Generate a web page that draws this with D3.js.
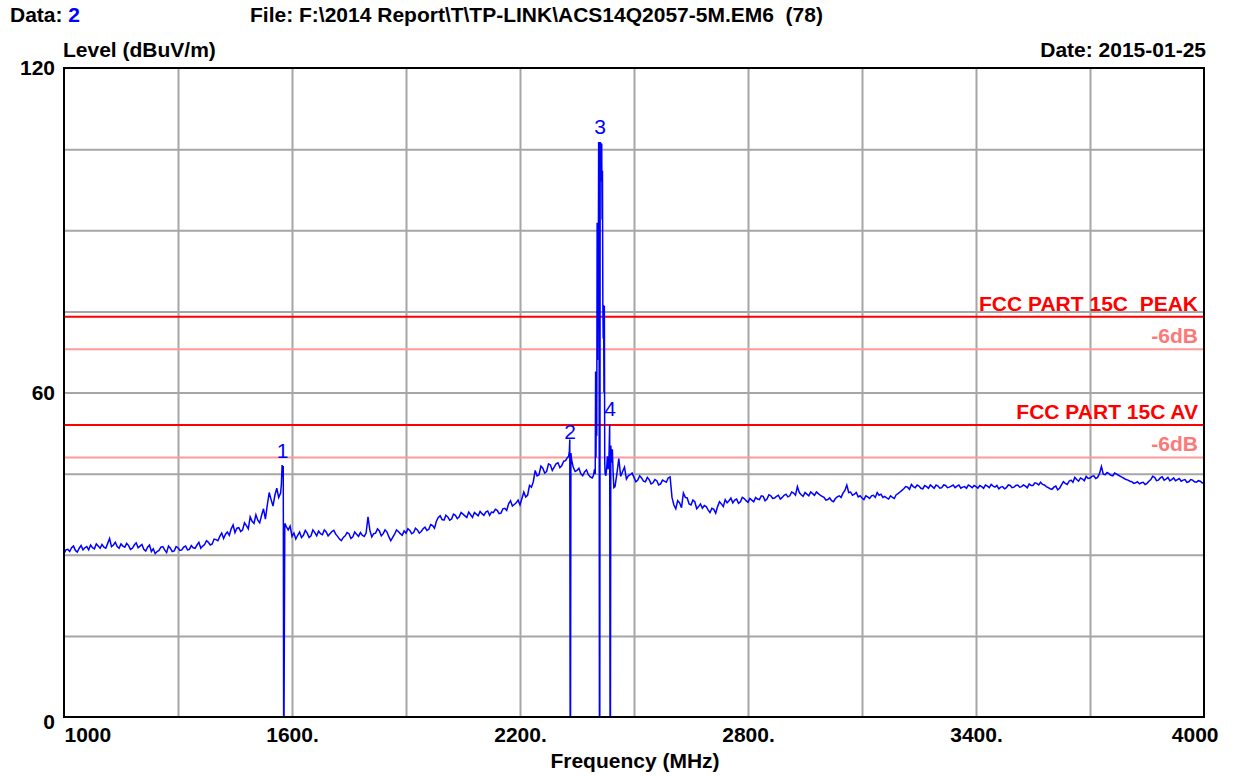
<!DOCTYPE html>
<html>
<head>
<meta charset="utf-8">
<script src="https://cdn.jsdelivr.net/npm/d3@7"></script>
<style>
  html, body { margin: 0; padding: 0; background: #ffffff; }
  svg { display: block; font-family: "Liberation Sans", Arial, sans-serif; }
  text { white-space: pre; }
</style>
</head>
<body>
<svg id="chart" width="1234" height="776"></svg>
<script>
// ---------------- data ----------------
const dataNo = "2";
const fileName = "File: F:\\2014 Report\\T\\TP-LINK\\ACS14Q2057-5M.EM6  (78)";
const dateText = "Date: 2015-01-25";
const yTitle = "Level (dBuV/m)";
const xTitle = "Frequency (MHz)";

const xDomain = [1000, 4000];
const yDomain = [0, 120];
const xGridValues = [1300, 1600, 1900, 2200, 2500, 2800, 3100, 3400, 3700];
const yGridValues = [15, 30, 45, 60, 75, 90, 105];
const xTickValues = [1000, 1600, 2200, 2800, 3400, 4000];
const xTickLabels = ["1000", "1600.", "2200.", "2800.", "3400.", "4000"];
const yTickValues = [0, 60, 120];
const yTickLabels = ["0", "60", "120"];

// limit lines (dBuV/m)
const limitNames = ["FCC PART 15C  PEAK", "-6dB", "FCC PART 15C AV", "-6dB"];
const limitValues = [74, 68, 54, 48];
const limitKinds = ["limit", "margin", "limit", "margin"];

// scan trace: level every 10 MHz from 1000 to 4000 (null = see detail points)
const traceStart = 1000;
const traceStep = 10;
const traceLevels = [
  30.2, 31.0, 31.3, 30.8, 31.2, 30.9, 31.5, 31.8, 31.1, 31.6,   // 1000-1090
  31.9, 31.2, 33.0, 31.8, 31.5, 32.0, 31.4, 31.7, 31.2, 32.2,   // 1100-1190
  31.6, 31.0, 31.4, 30.6, 30.2, 30.8, 31.5, 30.4, 31.2, 30.7,   // 1200-1290
  31.3, 30.9, 31.6, 31.0, 31.3, 31.8, 31.2, 31.9, 32.3, 32.0,   // 1300-1390
  32.8, 33.4, 33.0, 34.2, 34.8, 34.1, 35.0, 34.6, 35.4, 37.0,   // 1400-1490
  35.8, 36.4, 37.3, 36.6, 41.5, 39.0, 42.3, 41.4, null, 34.6,   // 1500-1590
  33.4, 32.9, 34.2, 33.6, 34.0, 33.5, 34.1, 34.4, 33.7, 34.2,   // 1600-1690
  33.9, 34.5, 33.4, 32.6, 33.5, 33.9, 33.3, 33.8, 34.1, 33.4,   // 1700-1790
  37.0, 33.3, 34.0, 34.4, 33.9, 34.2, 32.6, 33.8, 34.3, 33.6,   // 1800-1890
  34.0, 34.5, 34.1, 34.6, 34.3, 35.1, 34.7, 35.4, 36.2, 37.2,   // 1900-1990
  36.4, 37.0, 36.6, 37.3, 37.0, 37.5, 36.9, 37.4, 37.8, 37.2,   // 2000-2090
  37.6, 37.9, 37.3, 37.8, 38.2, 37.7, 38.6, 39.4, 39.0, 39.6,   // 2100-2190
  39.2, 41.6, 41.0, 42.5, 45.6, 44.8, 46.0, 45.4, 46.6, 46.2,   // 2200-2290
  47.0, 46.5, 47.4, null, 46.2, 45.6, 45.0, 45.3, 44.8, 44.2,   // 2300-2390
  null, null, null, null, null, 42.6, 47.8, 45.4, 44.0, 44.8,   // 2400-2490
  44.3, 43.8, 44.2, 43.5, 43.9, 43.3, 43.7, 43.1, 43.6, 44.2,   // 2500-2590
  40.6, 38.5, 39.6, 41.4, 40.5, 39.2, 39.8, 38.9, 38.6, 38.9,   // 2600-2690
  37.8, 38.4, 38.9, 39.4, 40.2, 40.0, 39.6, 40.3, 39.8, 40.4,   // 2700-2790
  39.7, 40.1, 40.6, 40.2, 40.8, 40.3, 40.9, 40.5, 41.0, 40.6,   // 2800-2890
  41.2, 40.9, 41.4, 42.6, 41.1, 41.5, 40.9, 41.3, 41.6, 41.0,   // 2900-2990
  40.6, 40.2, 40.0, 40.4, 40.9, 41.4, 42.9, 41.6, 41.2, 40.7,   // 3000-3090
  40.5, 40.9, 40.4, 41.0, 41.5, 41.2, 40.8, 40.3, 40.6, 41.1,   // 3100-3190
  41.6, 42.2, 42.5, 43.0, 42.4, 42.7, 42.2, 42.6, 42.9, 42.3,   // 3200-3290
  42.7, 42.4, 42.8, 42.5, 42.9, 42.7, 42.3, 42.6, 42.9, 42.4,   // 3300-3390
  42.6, 42.8, 42.3, 42.7, 43.0, 42.5, 42.2, 42.6, 42.4, 42.8,   // 3400-3490
  42.5, 42.9, 42.6, 42.7, 43.1, 42.8, 43.2, 43.4, 42.9, 42.4,   // 3500-3590
  42.1, 42.7, 42.3, 43.5, 43.0, 43.8, 44.3, 43.6, 44.0, 44.5,   // 3600-3690
  44.2, 44.6, 44.3, 46.3, 44.8, 45.0, 44.6, 44.9, 44.5, 44.1,   // 3700-3790
  43.8, 43.5, 43.3, 43.1, 43.4, 43.2, 43.9, 44.3, 43.8, 44.4,   // 3800-3890
  44.0, 43.7, 44.2, 43.9, 43.6, 43.9, 43.5, 43.8, 43.4, 43.6,   // 3900-3990
  43.2                                                          // 4000
];

// in-between readings at 1005, 1015, ... 3995 MHz (null = see detail points)
const traceMidStart = 1005;
const traceMidLevels = [
  30.9, 30.6, 31.6, 30.5, 31.7, 31.3, 30.9, 31.3, 32.0, 31.2,   // 1005-1095
  31.4, 32.1, 31.5, 32.3, 31.2, 31.6, 32.1, 31.0, 31.8, 31.3,   // 1105-1195
  31.9, 30.7, 31.8, 31.1, 30.6, 31.4, 30.9, 31.6, 30.6, 31.5,   // 1205-1295
  30.8, 31.4, 30.9, 31.7, 31.2, 32.3, 31.6, 32.6, 31.8, 32.9,   // 1305-1395
  32.6, 34.0, 33.8, 33.6, 35.5, 34.9, 34.3, 35.9, 34.8, 36.2,   // 1405-1495
  37.4, 35.9, 38.5, 39.2, 40.2, 41.0, 40.6, null, null, 35.3,   // 1505-1595
  34.0, 33.6, 33.2, 34.5, 33.2, 34.6, 33.5, 33.9, 34.6, 33.5,   // 1605-1695
  34.3, 33.8, 32.9, 33.2, 34.1, 33.0, 34.2, 33.4, 33.6, 34.0,   // 1705-1795
  34.5, 33.9, 34.8, 33.5, 34.6, 33.3, 33.2, 34.6, 33.9, 34.4,   // 1805-1895
  34.8, 33.9, 34.9, 34.0, 34.8, 34.5, 35.6, 34.9, 36.9, 36.5,   // 1905-1995
  37.3, 36.4, 37.5, 36.7, 37.8, 37.2, 37.9, 36.9, 37.5, 38.0,   // 2005-2095
  37.3, 38.1, 37.9, 38.4, 37.6, 38.5, 38.2, 40.0, 39.3, 40.1,   // 2105-2195
  40.4, 40.7, 42.8, 43.5, 44.6, 46.4, 45.1, 46.8, 45.6, 46.8,   // 2205-2295
  46.1, 47.3, null, null, 45.4, 46.0, 44.6, 45.7, 44.4, null,   // 2305-2395
  null, null, null, null, null, 45.0, 44.5, 46.2, 44.6, 45.1,   // 2405-2495
  43.5, 44.6, 43.6, 44.3, 43.1, 43.9, 42.9, 43.8, 43.4, 44.4,   // 2505-2595
  39.2, 40.0, 38.7, 40.6, 39.4, 40.1, 38.5, 39.4, 39.1, 38.3,   // 2605-2695
  38.6, 37.7, 39.8, 38.9, 39.6, 40.5, 40.1, 39.5, 40.6, 40.0,   // 2705-2795
  40.4, 39.8, 40.3, 40.9, 40.0, 41.1, 40.4, 40.8, 40.3, 41.0,   // 2805-2895
  40.7, 41.6, 41.0, 41.5, 40.8, 41.2, 41.6, 41.0, 41.3, 40.8,   // 2905-2995
  40.1, 40.5, 39.8, 40.7, 40.6, 41.9, 41.5, 41.0, 41.5, 40.9,   // 3005-3095
  40.2, 40.7, 40.9, 40.6, 41.0, 40.6, 40.5, 40.9, 40.4, 41.3,   // 3105-3195
  41.9, 42.6, 42.1, 42.6, 42.9, 42.3, 42.8, 42.3, 42.6, 42.9,   // 3205-3295
  42.3, 42.9, 42.4, 42.7, 42.4, 42.9, 42.5, 42.3, 42.7, 42.8,   // 3305-3395
  42.3, 42.6, 42.9, 42.4, 42.7, 42.8, 42.5, 42.2, 42.9, 42.4,   // 3405-3495
  42.8, 42.5, 42.9, 42.4, 42.8, 43.3, 42.9, 43.0, 42.6, 42.2,   // 3505-3595
  42.5, 42.0, 42.9, 43.2, 43.6, 43.4, 43.9, 44.2, 43.7, 44.1,   // 3605-3695
  44.5, 44.1, 45.0, 44.9, 45.2, 44.7, 45.1, 44.7, 44.3, 43.9,   // 3705-3795
  43.6, 43.2, 43.5, 43.3, 43.0, 43.6, 44.5, 43.7, 44.2, 43.8,   // 3805-3895
  44.3, 43.9, 43.7, 44.1, 43.8, 43.4, 43.9, 43.5, 43.7, 43.3    // 3905-3995
];

// finer detail points [MHz, dBuV/m] around the emissions / dropouts
const detailFreqs = [
  1572, 1574, 1576, 1577, 1578, 1579, 1581, 1585,
  2324, 2328, 2330, 2331, 2332, 2333, 2334, 2336,
  2393, 2396, 2398, 2399, 2400, 2401, 2402, 2403, 2404, 2405, 2406, 2407, 2408,
  2409, 2410, 2411, 2412, 2413, 2414, 2415, 2416, 2417, 2418, 2419, 2420, 2421,
  2422, 2423, 2424, 2426, 2428, 2430, 2432, 2434, 2436, 2437, 2438, 2439, 2441,
  2443, 2445, 2447
];
const detailLevels = [
  43.0, 46.6, 44.5, 46.4, 0, 0, 35.8, 35.2,
  47.9, 48.2, 49.2, 51.3, 0, 0, 48.8, 47.5,
  44.6, 45.8, 44.9, 63.9, 48.0, 63.5, 52.0, 91.4, 66.0, 91.0, 80.0, 106.3, 95.0,
  0, 0, 106.3, 99.0, 106.2, 100.0, 106.0, 92.0, 101.0, 76.2, 70.0, 76.2, 60.0,
  76.0, 47.0, 45.0, 44.6, 46.0, 48.2, 45.8, 47.5, 54.1, 0, 0, 50.2, 47.0,
  49.5, 45.2, 42.4
];

// markers
const markerIds = ["1", "2", "3", "4"];
const markerFreqs = [1575, 2332, 2411, 2437];
const markerLevels = [46.5, 50.0, 106.3, 54.1];

// ---------------- drawing ----------------
const svg = d3.select("#chart");
const plotL = 64, plotR = 1204, plotT = 68, plotB = 717;

const x = d3.scaleLinear().domain(xDomain).range([plotL, plotR]);
const y = d3.scaleLinear().domain(yDomain).range([plotB, plotT]);

const FONT = 21;

// build trace
const trace = [];
traceLevels.forEach((v, i) => { if (v !== null) trace.push([traceStart + i * traceStep, v]); });
traceMidLevels.forEach((v, i) => { if (v !== null) trace.push([traceMidStart + i * traceStep, v]); });
detailFreqs.forEach((f, i) => trace.push([f, detailLevels[i]]));
trace.sort((a, b) => a[0] - b[0]);

// grid lines via axes
const gx = svg.append("g").attr("transform", `translate(0,${plotB})`)
  .call(d3.axisBottom(x).tickValues(xGridValues).tickSize(-(plotB - plotT)).tickFormat(""));
gx.select(".domain").remove();
gx.selectAll("line").attr("stroke", "#a6a6a6").attr("stroke-width", 2);

const gy = svg.append("g").attr("transform", `translate(${plotL},0)`)
  .call(d3.axisLeft(y).tickValues(yGridValues).tickSize(-(plotR - plotL)).tickFormat(""));
gy.select(".domain").remove();
gy.selectAll("line").attr("stroke", "#a6a6a6").attr("stroke-width", 2);

// limit lines
limitValues.forEach((v, i) => {
  const col = limitKinds[i] === "limit" ? "#ff0000" : "#ff9a9a";
  svg.append("line")
    .attr("x1", x(xDomain[0])).attr("x2", x(xDomain[1]))
    .attr("y1", y(v)).attr("y2", y(v))
    .attr("stroke", col).attr("stroke-width", 2);
  svg.append("text")
    .attr("x", 1198).attr("y", y(v) - 6)
    .attr("text-anchor", "end")
    .attr("font-size", FONT).attr("font-weight", "bold")
    .attr("fill", limitKinds[i] === "limit" ? "#ff0000" : "#ff7878")
    .text(limitNames[i]);
});

// clip
svg.append("clipPath").attr("id", "plotclip").append("rect")
  .attr("x", plotL).attr("y", plotT).attr("width", plotR - plotL).attr("height", plotB - plotT);

// trace
svg.append("path")
  .datum(trace)
  .attr("clip-path", "url(#plotclip)")
  .attr("fill", "none")
  .attr("stroke", "#0000ff")
  .attr("stroke-width", 1.5)
  .attr("stroke-linejoin", "miter")
  .attr("d", d3.line().x(d => x(d[0])).y(d => y(d[1])));

// border
svg.append("rect")
  .attr("x", plotL).attr("y", plotT).attr("width", plotR - plotL).attr("height", plotB - plotT)
  .attr("fill", "none").attr("stroke", "#000000").attr("stroke-width", 2);

// markers
markerIds.forEach((m, i) => {
  svg.append("text")
    .attr("x", x(markerFreqs[i])).attr("y", y(markerLevels[i]) - 8)
    .attr("text-anchor", "middle")
    .attr("font-size", FONT).attr("fill", "#0000ff")
    .text(m);
});

// x tick labels via axis
const ax = svg.append("g").attr("transform", `translate(0,${plotB})`)
  .call(d3.axisBottom(x).tickValues(xTickValues).tickSize(0).tickPadding(10)
    .tickFormat((d, i) => xTickLabels[i]));
ax.select(".domain").remove();
ax.selectAll("text")
  .attr("font-size", FONT).attr("font-weight", "bold").attr("fill", "#000")
  .attr("font-family", "Liberation Sans, Arial, sans-serif")
  .attr("text-anchor", (d, i) => i === 0 ? "start" : (i === xTickValues.length - 1 ? "end" : "middle"))
  .attr("dx", (d, i) => i === xTickValues.length - 1 ? 14 : 0);

// y tick labels via axis
const ay = svg.append("g").attr("transform", `translate(${plotL},0)`)
  .call(d3.axisLeft(y).tickValues(yTickValues).tickSize(0).tickPadding(9)
    .tickFormat((d, i) => yTickLabels[i]));
ay.select(".domain").remove();
ay.selectAll("text")
  .attr("font-size", FONT).attr("font-weight", "bold").attr("fill", "#000")
  .attr("font-family", "Liberation Sans, Arial, sans-serif")
  .attr("dy", (d) => d === 0 ? "0.55em" : "0.32em");

// header texts
const hdr = svg.append("text").attr("x", 10).attr("y", 22)
  .attr("font-size", FONT).attr("font-weight", "bold");
hdr.append("tspan").attr("fill", "#000").text("Data: ");
hdr.append("tspan").attr("fill", "#0000ff").text(dataNo);

svg.append("text").attr("x", 250).attr("y", 22)
  .attr("font-size", FONT).attr("font-weight", "bold").attr("fill", "#000")
  .text(fileName);

svg.append("text").attr("x", 63).attr("y", 57)
  .attr("font-size", FONT).attr("font-weight", "bold").attr("fill", "#000")
  .text(yTitle);

svg.append("text").attr("x", 1206).attr("y", 57).attr("text-anchor", "end")
  .attr("font-size", FONT).attr("font-weight", "bold").attr("fill", "#000")
  .text(dateText);

svg.append("text").attr("x", 635).attr("y", 768).attr("text-anchor", "middle")
  .attr("font-size", FONT).attr("font-weight", "bold").attr("fill", "#000")
  .text(xTitle);
</script>
</body>
</html>
